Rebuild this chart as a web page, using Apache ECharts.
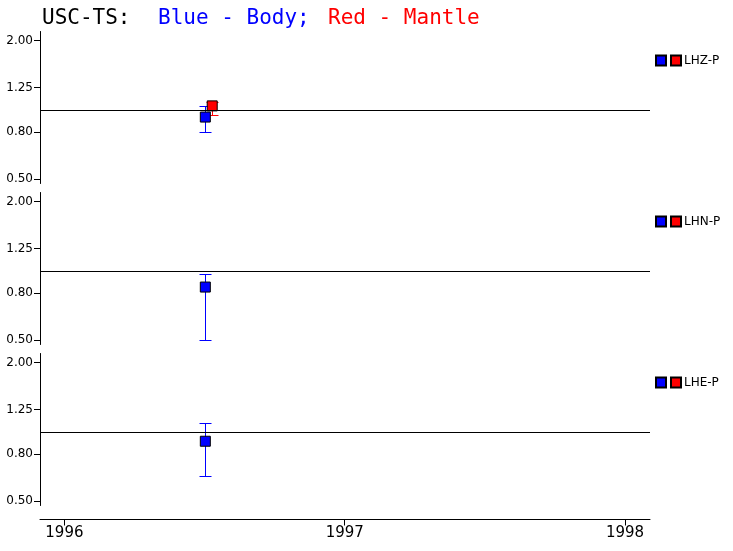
<!DOCTYPE html>
<html>
<head>
<meta charset="utf-8">
<script src="https://cdn.jsdelivr.net/npm/echarts@6/dist/echarts.min.js"></script>
<style>
  html, body { margin: 0; padding: 0; background: #fff; }
  #chart { width: 733px; height: 551px; }
</style>
</head>
<body>
<div id="chart"></div>
<script>
  // stations (one panel each)
  const stations = ['LHZ-P', 'LHN-P', 'LHE-P']
  // body (blue) ratios with error ranges
  const bodyDate = ['1996-07-03', '1996-07-03', '1996-07-03']
  const bodyRatio = [0.93, 0.85, 0.91]
  const bodyLow = [0.80, 0.50, 0.64]
  const bodyHigh = [1.04, 0.97, 1.09]
  // mantle (red) ratios, only the first panel has one
  const mantleDate = ['1996-07-12', null, null]
  const mantleRatio = [1.04, null, null]
  const mantleLow = [0.95, null, null]
  const mantleHigh = [1.08, null, null]
  // axis ticks
  const yTicks = [0.5, 0.8, 1.25, 2.0]
  const yearTicks = [1996, 1997, 1998]

  const font = 'DejaVu Sans'
  const lg = v => Math.log10(v)
  // date string -> decimal year
  const yr = s => {
    const [y, m, d] = s.split('-').map(Number)
    const start = Date.UTC(y, 0, 1), end = Date.UTC(y + 1, 0, 1)
    return y + (Date.UTC(y, m - 1, d) - start) / (end - start)
  }
  const panelTop = [31.5, 192.5, 353.5]
  const panelHeight = 152

  const grid = [], xAxis = [], yAxis = [], series = [], legend = []

  stations.forEach((st, i) => {
    const last = i === stations.length - 1
    grid.push({ left: 40, right: 83, top: panelTop[i], height: panelHeight })
    xAxis.push({
      type: 'value',
      gridIndex: i,
      min: 1995.913,
      max: 1998.089,
      show: last,
      offset: last ? 14 : 0,
      axisLine: { onZero: false, lineStyle: { color: '#000', width: 1 } },
      axisTick: { show: true, length: 6, customValues: yearTicks, lineStyle: { color: '#000' } },
      axisLabel: {
        customValues: yearTicks,
        margin: 6,
        color: '#000',
        fontSize: 15,
        fontFamily: font,
        formatter: v => String(Math.round(v))
      },
      splitLine: { show: false }
    })
    yAxis.push({
      type: 'value',
      gridIndex: i,
      min: -0.32,
      max: 0.34,
      axisLine: { show: true, lineStyle: { color: '#000', width: 1 } },
      axisTick: { show: true, length: 6, customValues: yTicks.map(lg), lineStyle: { color: '#000' } },
      axisLabel: {
        customValues: yTicks.map(lg),
        margin: 7,
        color: '#000',
        fontSize: 12,
        fontFamily: font,
        formatter: v => Math.pow(10, v).toFixed(2)
      },
      splitLine: { show: false }
    })

    const errBar = (color) => (params, api) => {
      const x = api.value(0)
      const top = api.coord([x, api.value(2)])
      const bot = api.coord([x, api.value(1)])
      const cx = Math.round(top[0]) + 0.5
      const ty = Math.round(top[1]) + 0.5, by = Math.round(bot[1]) + 0.5
      const style = { stroke: color, lineWidth: 1 }
      return {
        type: 'group',
        children: [
          { type: 'line', shape: { x1: cx, y1: ty, x2: cx, y2: by }, style },
          { type: 'line', shape: { x1: cx - 6, y1: ty, x2: cx + 6, y2: ty }, style },
          { type: 'line', shape: { x1: cx - 6, y1: by, x2: cx + 6, y2: by }, style }
        ]
      }
    }

    const mantleHas = mantleRatio[i] != null

    // error bars first
    series.push({
      type: 'custom',
      xAxisIndex: i, yAxisIndex: i,
      renderItem: errBar('#0000ff'),
      data: [[yr(bodyDate[i]), lg(bodyLow[i]), lg(bodyHigh[i])]],
      silent: true,
      z: 1
    })
    series.push({
      type: 'custom',
      xAxisIndex: i, yAxisIndex: i,
      renderItem: errBar('#ff0000'),
      data: mantleHas ? [[yr(mantleDate[i]), lg(mantleLow[i]), lg(mantleHigh[i])]] : [],
      silent: true,
      z: 1
    })
    // markers
    series.push({
      name: st + ' body',
      type: 'scatter',
      xAxisIndex: i, yAxisIndex: i,
      symbol: 'rect',
      symbolSize: 10,
      itemStyle: { color: '#0000ff', borderColor: '#000', borderWidth: 1, opacity: 1 },
      data: [[yr(bodyDate[i]), lg(bodyRatio[i])]],
      z: 3,
      markLine: {
        silent: true,
        symbol: 'none',
        label: { show: false },
        lineStyle: { color: '#000', type: 'solid', width: 1 },
        emphasis: { disabled: true },
        data: [{ yAxis: 0 }]
      }
    })
    series.push({
      name: st + ' mantle',
      type: 'scatter',
      xAxisIndex: i, yAxisIndex: i,
      symbol: 'rect',
      symbolSize: 10,
      itemStyle: { color: '#ff0000', borderColor: '#000', borderWidth: 1, opacity: 1 },
      data: mantleHas ? [[yr(mantleDate[i]), lg(mantleRatio[i])]] : [],
      z: 3
    })

    legend.push({
      data: [st + ' body', st + ' mantle'],
      left: 655,
      top: panelTop[i] + 23,
      icon: 'rect',
      itemWidth: 10,
      itemHeight: 10,
      itemGap: 3,
      padding: 0,
      selectedMode: false,
      formatter: n => n.endsWith('mantle') ? st : '',
      textStyle: { color: '#000', fontSize: 12, fontFamily: font, padding: [0, 0, 0, -2] }
    })
  })

  const titleStyle = { fontSize: 21, fontWeight: 'normal', fontFamily: 'DejaVu Sans Mono' }
  const option = {
    animation: false,
    backgroundColor: '#fff',
    title: [
      { text: 'USC-TS:', left: 42, top: 8, padding: 0, textStyle: Object.assign({ color: '#000' }, titleStyle) },
      { text: 'Blue - Body;', left: 158, top: 8, padding: 0, textStyle: Object.assign({ color: '#0000ff' }, titleStyle) },
      { text: 'Red - Mantle', left: 328, top: 8, padding: 0, textStyle: Object.assign({ color: '#ff0000' }, titleStyle) }
    ],
    legend,
    grid,
    xAxis,
    yAxis,
    series
  }

  const chart = echarts.init(document.getElementById('chart'))
  chart.setOption(option)
</script>
</body>
</html>
